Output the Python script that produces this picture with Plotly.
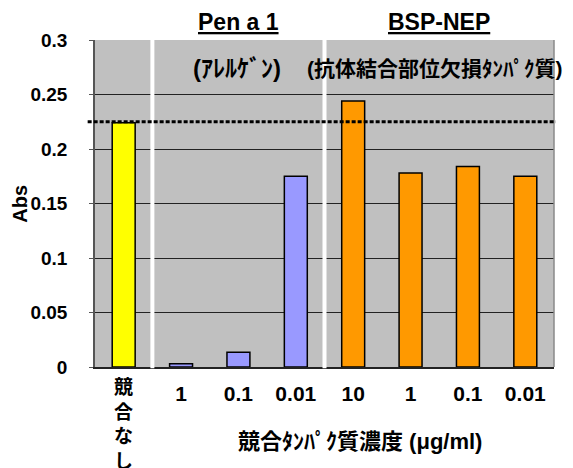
import plotly.graph_objects as go

# Data
categories = ["競合なし", "1", "0.1", "0.01", "10", "1", "0.1", "0.01"]
values = [0.224, 0.003, 0.0135, 0.175, 0.244, 0.178, 0.184, 0.175]
bar_colors = ["#FFFF00", "#9999FF", "#9999FF", "#9999FF",
              "#FF9900", "#FF9900", "#FF9900", "#FF9900"]
reference_level = 0.225
y_ticks = [0, 0.05, 0.1, 0.15, 0.2, 0.25, 0.3]

FONT = "Liberation Sans, Arial, Noto Sans CJK JP, sans-serif"
positions = list(range(len(categories)))
# first category is written vertically as a separate annotation
tick_labels = [""] + ["<b>%s</b>" % c for c in categories[1:]]

fig = go.Figure()
fig.add_trace(go.Bar(
    x=positions, y=values,
    marker=dict(color=bar_colors, line=dict(color="black", width=1.5)),
    width=0.4, showlegend=False, hoverinfo="skip",
))

# the page body adds an 8px offset, so margins are compensated
fig.update_layout(
    width=573, height=468,
    margin=dict(l=87, r=27, t=32, b=109),
    paper_bgcolor="white", plot_bgcolor="#C0C0C0",
    font=dict(family=FONT, color="black"),
)
fig.update_xaxes(
    range=[-0.5, 7.5], tickvals=positions, ticktext=tick_labels,
    tickfont=dict(size=21), ticks="", showgrid=False, zeroline=False,
    showline=True, linecolor="#222", linewidth=1.5, mirror=False,
    ticklabelstandoff=7, automargin=False,
)
fig.update_yaxes(
    range=[0, 0.3], tickvals=y_ticks,
    ticktext=["<b>%g</b>" % v for v in y_ticks],
    tickfont=dict(size=19), showgrid=True, gridcolor="#222", gridwidth=1,
    zeroline=False, showline=True, linecolor="#555", linewidth=1.5,
    ticks="outside", ticklen=4, tickcolor="#555", ticklabelstandoff=18,
    automargin=False,
)

# right border of plot area
fig.add_shape(type="line", xref="paper", yref="paper", x0=1, x1=1, y0=0, y1=1,
              line=dict(color="#8a8a8a", width=1.5), layer="above")

# white separators between groups
for xs in [0.5, 3.5]:
    fig.add_shape(type="line", xref="x", yref="paper", x0=xs, x1=xs, y0=-0.004, y1=1,
                  line=dict(color="white", width=4), layer="above")

# dotted reference line
fig.add_shape(type="line", xref="paper", yref="y", x0=-0.016, x1=1.004,
              y0=reference_level, y1=reference_level,
              line=dict(color="black", width=3, dash="4px,2px"), layer="above")

# vertical first-category label
fig.add_annotation(text="<b>" + "<br>".join(categories[0]) + "</b>", x=positions[0], xref="x",
                   y=-0.025, yref="paper", yanchor="top", showarrow=False,
                   font=dict(size=19))

# annotations
fig.add_annotation(text="<b><u>Pen a 1</u></b>", x=2, xref="x", y=1.055, yref="paper",
                   showarrow=False, font=dict(size=23), yanchor="middle")
fig.add_annotation(text="<b><u>BSP-NEP</u></b>", x=5.5, xref="x", y=1.055, yref="paper",
                   showarrow=False, font=dict(size=23), yanchor="middle")
fig.add_annotation(text="<b>(ｱﾚﾙｹﾞﾝ)</b>", x=1.97, xref="x", y=0.274, yref="y",
                   showarrow=False, font=dict(size=24), yanchor="middle")
fig.add_annotation(text="<b>(抗体結合部位欠損ﾀﾝﾊﾟｸ質)</b>", x=5.42, xref="x", y=0.274, yref="y",
                   showarrow=False, font=dict(size=21), yanchor="middle")
fig.add_annotation(text="<b>競合ﾀﾝﾊﾟｸ質濃度 (μg/ml)</b>", x=0.577, xref="paper", y=-0.229,
                   yref="paper", showarrow=False, font=dict(size=22), yanchor="middle")
fig.add_annotation(text="<b>Abs</b>", x=-0.165, xref="paper", y=0.5, yref="paper",
                   textangle=-90, showarrow=False, font=dict(size=20),
                   xanchor="center", yanchor="middle")

fig.write_html("out.html")
